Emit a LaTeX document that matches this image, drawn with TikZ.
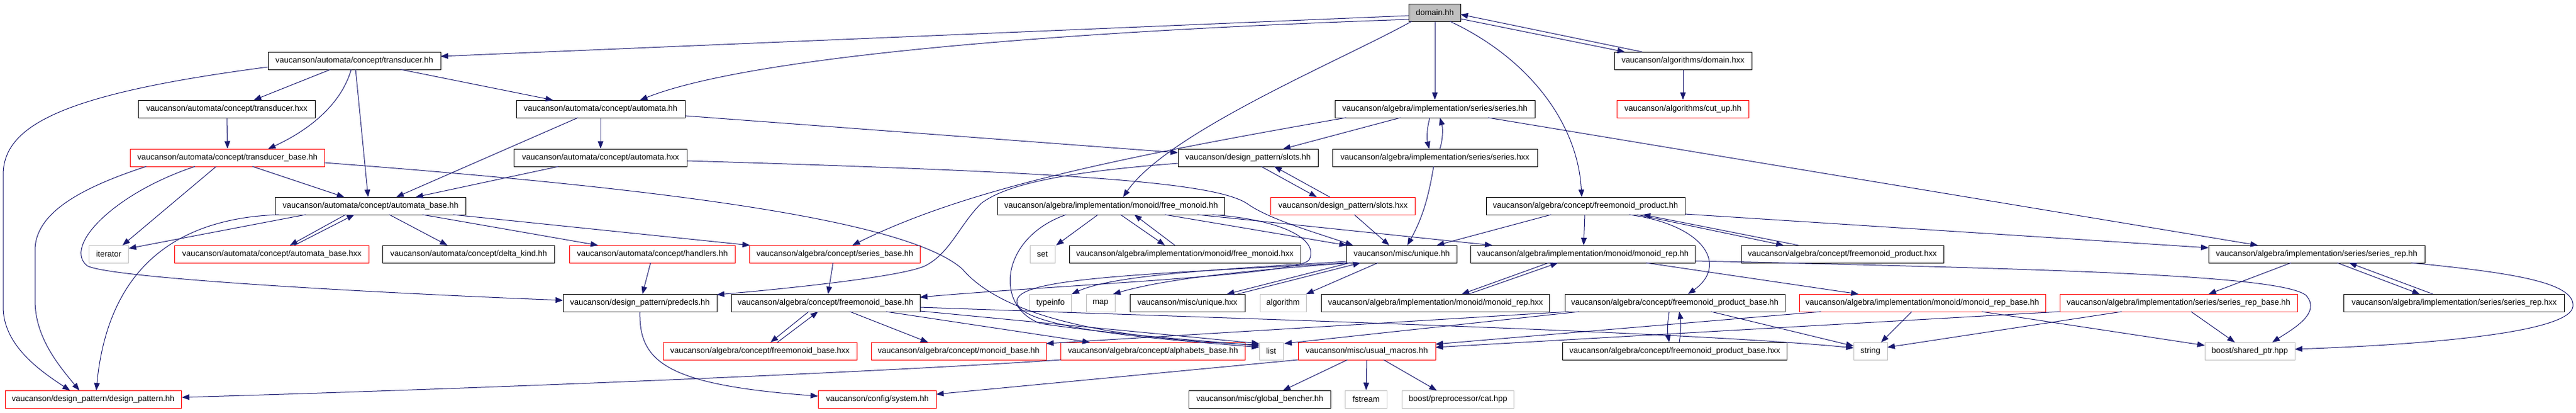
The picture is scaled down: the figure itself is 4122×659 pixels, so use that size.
\documentclass[tikz,border=0pt]{standalone}
\usepackage{fontspec}
\setmainfont{Liberation Sans}
\usetikzlibrary{arrows.meta,calc}
\definecolor{edgeblue}{RGB}{25,25,112}
\definecolor{boxgray}{RGB}{191,191,191}
\begin{document}
\begin{tikzpicture}[x=1pt,y=-1pt,
  box/.style={rectangle, minimum height=28pt, inner sep=0pt, line width=1pt, fill=white, text=black, font=\fontsize{13}{15}\selectfont},
  nb/.style={box, draw=black},
  nr/.style={box, draw=red},
  ng/.style={box, draw=boxgray},
  nroot/.style={box, draw=black, fill=boxgray},
  conn/.style={draw=edgeblue, line width=1pt, -{Triangle[length=12pt,width=9pt]}}]
\useasboundingbox (0,0) rectangle (4122,659);
% row 1
\node[nroot, minimum width=83pt] (domain) at (2296,20) {domain.hh};
% row 2
\node[nb, minimum width=276pt] (transducer) at (567,97) {vaucanson/automata/concept/transducer.hh};
\node[nb, minimum width=220pt] (domhxx) at (2693,97) {vaucanson/algorithms/domain.hxx};
% row 3
\node[nb, minimum width=283pt] (transhxx) at (363,174) {vaucanson/automata/concept/transducer.hxx};
\node[nb, minimum width=270pt] (automata) at (961,174) {vaucanson/automata/concept/automata.hh};
\node[nb, minimum width=320pt] (series) at (2296,174) {vaucanson/algebra/implementation/series/series.hh};
\node[nr, minimum width=211pt] (cutup) at (2693,174) {vaucanson/algorithms/cut\_up.hh};
% row 4
\node[nr, minimum width=311pt] (transbase) at (364,252) {vaucanson/automata/concept/transducer\_base.hh};
\node[nb, minimum width=277pt] (automhxx) at (961,252) {vaucanson/automata/concept/automata.hxx};
\node[nb, minimum width=224pt] (slots) at (1997,252) {vaucanson/design\_pattern/slots.hh};
\node[nb, minimum width=328pt] (serieshxx) at (2296,252) {vaucanson/algebra/implementation/series/series.hxx};
% row 5
\node[nb, minimum width=305pt] (autobase) at (593,329) {vaucanson/automata/concept/automata\_base.hh};
\node[nb, minimum width=363pt] (freemonoid) at (1778,329) {vaucanson/algebra/implementation/monoid/free\_monoid.hh};
\node[nr, minimum width=231pt] (slotshxx) at (2149,329) {vaucanson/design\_pattern/slots.hxx};
\node[nb, minimum width=318pt] (fprod) at (2537,329) {vaucanson/algebra/concept/freemonoid\_product.hh};
% row 6
\node[ng, minimum width=63pt] (iterator) at (174,406) {iterator};
\node[nr, minimum width=311pt] (autobasehxx) at (435,406) {vaucanson/automata/concept/automata\_base.hxx};
\node[nb, minimum width=275pt] (deltakind) at (750,406) {vaucanson/automata/concept/delta\_kind.hh};
\node[nr, minimum width=265pt] (handlers) at (1044,406) {vaucanson/automata/concept/handlers.hh};
\node[nr, minimum width=273pt] (seriesbase) at (1336,406) {vaucanson/algebra/concept/series\_base.hh};
\node[ng, minimum width=40pt] (set) at (1668,406) {set};
\node[nb, minimum width=370pt] (freemonoidhxx) at (1896,406) {vaucanson/algebra/implementation/monoid/free\_monoid.hxx};
\node[nb, minimum width=177pt] (unique) at (2243,406) {vaucanson/misc/unique.hh};
\node[nb, minimum width=359pt] (monoidrep) at (2533,406) {vaucanson/algebra/implementation/monoid/monoid\_rep.hh};
\node[nb, minimum width=324pt] (fprodhxx) at (2948,406) {vaucanson/algebra/concept/freemonoid\_product.hxx};
\node[nb, minimum width=346pt] (seriesrep) at (3707,406) {vaucanson/algebra/implementation/series/series\_rep.hh};
% row 7
\node[nb, minimum width=246pt] (predecls) at (1024,484) {vaucanson/design\_pattern/predecls.hh};
\node[nb, minimum width=302pt] (fmbase) at (1321,484) {vaucanson/algebra/concept/freemonoid\_base.hh};
\node[ng, minimum width=67pt] (typeinfo) at (1681,484) {typeinfo};
\node[ng, minimum width=46pt] (map) at (1761,484) {map};
\node[nb, minimum width=184pt] (uniquehxx) at (1900,484) {vaucanson/misc/unique.hxx};
\node[ng, minimum width=74pt] (algorithm) at (2053,484) {algorithm};
\node[nb, minimum width=365pt] (monoidrephxx) at (2297,484) {vaucanson/algebra/implementation/monoid/monoid\_rep.hxx};
\node[nb, minimum width=352pt] (fpbase) at (2680,484) {vaucanson/algebra/concept/freemonoid\_product\_base.hh};
\node[nr, minimum width=394pt] (monoidrepbase) at (3076,484) {vaucanson/algebra/implementation/monoid/monoid\_rep\_base.hh};
\node[nr, minimum width=380pt] (seriesrepbase) at (3486,484) {vaucanson/algebra/implementation/series/series\_rep\_base.hh};
\node[nb, minimum width=353pt] (seriesrephxx) at (3927,484) {vaucanson/algebra/implementation/series/series\_rep.hxx};
% row 8
\node[nr, minimum width=310pt] (fmbasehxx) at (1216,561) {vaucanson/algebra/concept/freemonoid\_base.hxx};
\node[nr, minimum width=280pt] (monoidbase) at (1534,561) {vaucanson/algebra/concept/monoid\_base.hh};
\node[nr, minimum width=295pt] (alphabase) at (1845,561) {vaucanson/algebra/concept/alphabets\_base.hh};
\node[ng, minimum width=38pt] (list) at (2034,561) {list};
\node[nr, minimum width=220pt] (usualmacros) at (2187,561) {vaucanson/misc/usual\_macros.hh};
\node[nb, minimum width=359pt] (fpbasehxx) at (2680,561) {vaucanson/algebra/concept/freemonoid\_product\_base.hxx};
\node[ng, minimum width=54pt] (string) at (2993,561) {string};
\node[ng, minimum width=144pt] (sharedptr) at (3600,561) {boost/shared\_ptr.hpp};
% row 9
\node[nr, minimum width=282pt] (designpattern) at (149,638) {vaucanson/design\_pattern/design\_pattern.hh};
\node[nr, minimum width=189pt] (system) at (1404,638) {vaucanson/config/system.hh};
\node[nb, minimum width=227pt] (globalbencher) at (2016,638) {vaucanson/misc/global\_bencher.hh};
\node[ng, minimum width=67pt] (fstream) at (2186,638) {fstream};
\node[ng, minimum width=179pt] (cat) at (2333,638) {boost/preprocessor/cat.hpp};

% ---------- edges ----------
\draw[conn] ($(domain)+(-42,5)$) -- ($(transducer)+(138,-7)$);
\draw[conn] ($(domain)+(-42,11)$) .. controls (1700,50) and (1200,90) .. ($(automata)+(63,-14)$);
\draw[conn] ($(domain)+(-37,14)$) .. controls (2150,95) and (1870,210) .. ($(freemonoid)+(19,-14)$);
\draw[conn] (domain.south) -- (series.north);
\draw[conn] ($(domain)+(24,14)$) .. controls (2450,95) and (2525,200) .. ($(fprod)+(-6,-14)$);
\draw[conn] ($(domain)+(41,10)$) -- ($(domhxx)+(-93,-14)$);
\draw[conn] ($(domhxx)+(-65,-14)$) -- ($(domain)+(41,3)$);
\draw[conn] (domhxx.south) -- (cutup.north);

\draw[conn] ($(transducer)+(-38,14)$) -- ($(transhxx)+(43,-14)$);
\draw[conn] ($(transducer)+(-5,14)$) .. controls (545,170) and (490,210) .. ($(transbase)+(65,-14)$);
\draw[conn] ($(transducer)+(2,14)$) -- ($(autobase)+(-4,-14)$);
\draw[conn] ($(transducer)+(74,14)$) -- ($(automata)+(-76,-14)$);
\draw[conn] ($(transducer)+(-138,10)$) .. controls (100,150) and (5,200) .. (5,280) -- (5,490) .. controls (5,550) and (60,590) .. ($(designpattern)+(-37,-14)$);
\draw[conn] (transhxx.south) -- (transbase.north);

\draw[conn] ($(transbase)+(-130,14)$) .. controls (130,300) and (56,340) .. (56,400) -- (56,480) .. controls (56,540) and (95,585) .. ($(designpattern)+(-22,-14)$);
\draw[conn] ($(transbase)+(-52,14)$) .. controls (180,310) and (100,395) .. (140,425) .. controls (180,445) and (600,468) .. ($(predecls)+(-123,-4)$);
\draw[conn] ($(transbase)+(-18,14)$) -- ($(iterator)+(22,-14)$);
\draw[conn] ($(transbase)+(40,14)$) -- ($(autobase)+(-42,-14)$);
\draw[conn] ($(transbase)+(155,8)$) .. controls (1050,300) and (1450,350) .. (1540,430) .. controls (1600,500) and (1750,540) .. ($(list)+(-19,-10)$);

\draw[conn] (automata.south) -- (automhxx.north);
\draw[conn] ($(automata)+(-36,14)$) -- ($(autobase)+(41,-14)$);
\draw[conn] ($(automata)+(135,11)$) -- ($(slots)+(-112,-8)$);
\draw[conn] ($(automhxx)+(-67,14)$) -- ($(autobase)+(72,-14)$);
\draw[conn] ($(automhxx)+(139,5)$) .. controls (1700,275) and (1940,290) .. (1995,325) .. controls (2030,350) and (2100,370) .. ($(unique)+(-78,-14)$);

\draw[conn] ($(slots)+(21,14)$) -- ($(slotshxx)+(-42,-14)$);
\draw[conn] ($(slotshxx)+(-21,-14)$) -- ($(slots)+(42,14)$);
\draw[conn] ($(slots)+(-112,9)$) .. controls (1700,275) and (1610,295) .. (1570,325) .. controls (1535,360) and (1520,405) .. (1480,425) .. controls (1440,443) and (1250,462) .. ($(predecls)+(123,-13)$);

\draw[conn] ($(series)+(-142,14)$) .. controls (1800,250) and (1550,300) .. ($(seriesbase)+(28,-14)$);
\draw[conn] ($(series)+(-55,14)$) -- ($(slots)+(56,-14)$);
\draw[conn] ($(series)+(-8,14)$) .. controls (2283,205) and (2283,222) .. ($(serieshxx)+(-9,-14)$);
\draw[conn] ($(serieshxx)+(8,-14)$) .. controls (2309,222) and (2309,205) .. ($(series)+(8,14)$);
\draw[conn] ($(series)+(85,14)$) -- ($(seriesrep)+(-94,-14)$);
\draw[conn] ($(serieshxx)+(-2,14)$) .. controls (2285,320) and (2275,350) .. ($(unique)+(9,-14)$);

\draw[conn] ($(freemonoid)+(-21,14)$) -- ($(set)+(22,-14)$);
\draw[conn] ($(freemonoid)+(15,14)$) -- ($(freemonoidhxx)+(-32,-14)$);
\draw[conn] ($(freemonoidhxx)+(-16,-14)$) -- ($(freemonoid)+(37,14)$);
\draw[conn] ($(freemonoid)+(86,14)$) -- ($(unique)+(-88,-14)$);
\draw[conn] ($(freemonoid)+(138,14)$) -- ($(monoidrep)+(-145,-14)$);
\draw[conn] ($(freemonoid)+(162,14)$) .. controls (2060,352) and (2110,385) .. (2095,415) .. controls (2080,440) and (1700,455) .. ($(fmbase)+(151,-9)$);
\draw[conn] ($(freemonoid)+(-72,14)$) .. controls (1600,380) and (1590,490) .. (1665,517) .. controls (1800,537) and (1950,546) .. ($(list)+(-19,-8)$);

\draw[conn] ($(slotshxx)+(18,14)$) -- ($(unique)+(-20,-14)$);
\draw[conn] ($(fprod)+(-55,14)$) -- ($(unique)+(56,-14)$);
\draw[conn] ($(fprod)+(-1,14)$) -- ($(monoidrep)+(1,-14)$);
\draw[conn] ($(fprod)+(70,14)$) .. controls (2730,360) and (2765,425) .. ($(fpbase)+(21,-14)$);
\draw[conn] ($(fprod)+(83,14)$) -- ($(fprodhxx)+(-94,-14)$);
\draw[conn] ($(fprodhxx)+(-70,-14)$) -- ($(fprod)+(92,14)$);
\draw[conn] ($(fprod)+(159,13)$) -- ($(seriesrep)+(-173,-10)$);

\draw[conn] ($(unique)+(-89,12)$) .. controls (1950,430) and (1780,440) .. ($(typeinfo)+(34,-14)$);
\draw[conn] ($(unique)+(-80,14)$) .. controls (1950,435) and (1850,450) .. ($(map)+(20,-14)$);
\draw[conn] ($(unique)+(-83,14)$) -- ($(uniquehxx)+(63,-14)$);
\draw[conn] ($(uniquehxx)+(80,-14)$) -- ($(unique)+(-66,14)$);
\draw[conn] ($(unique)+(-38,14)$) -- ($(algorithm)+(37,-14)$);
\draw[conn] ($(unique)+(-86,14)$) .. controls (1800,440) and (1600,445) .. (1630,490) .. controls (1660,530) and (1900,545) .. ($(list)+(-19,-6)$);

\draw[conn] ($(monoidrep)+(-55,14)$) -- ($(monoidrephxx)+(42,-14)$);
\draw[conn] ($(monoidrephxx)+(53,-14)$) -- ($(monoidrep)+(-40,14)$);
\draw[conn] ($(monoidrep)+(101,14)$) -- ($(monoidrepbase)+(-102,-14)$);
\draw[conn] ($(monoidrep)+(180,11)$) .. controls (3300,430) and (3650,440) .. (3690,472) .. controls (3715,500) and (3670,525) .. ($(sharedptr)+(36,-14)$);

\draw[conn] ($(seriesrep)+(-41,14)$) -- ($(seriesrepbase)+(48,-14)$);
\draw[conn] ($(seriesrep)+(33,14)$) -- ($(seriesrephxx)+(-55,-14)$);
\draw[conn] ($(seriesrephxx)+(-34,-14)$) -- ($(seriesrep)+(52,14)$);
\draw[conn] ($(seriesrep)+(151,14)$) .. controls (4010,435) and (4122,450) .. (4117,490) .. controls (4112,530) and (3900,550) .. ($(sharedptr)+(72,-3)$);

\draw[conn] ($(seriesrepbase)+(20,14)$) -- ($(sharedptr)+(-24,-14)$);
\draw[conn] ($(seriesrepbase)+(-91,14)$) -- ($(string)+(27,-6)$);
\draw[conn] ($(seriesrepbase)+(-190,14)$) -- ($(usualmacros)+(110,-6)$);
\draw[conn] ($(monoidrepbase)+(-17,14)$) -- ($(string)+(17,-14)$);
\draw[conn] ($(monoidrepbase)+(95,14)$) -- ($(sharedptr)+(-72,-9)$);
\draw[conn] ($(monoidrepbase)+(-162,14)$) -- ($(usualmacros)+(110,-11)$);

\draw[conn] ($(fpbase)+(-9,14)$) .. controls (2668,515) and (2668,530) .. ($(fpbasehxx)+(-9,-14)$);
\draw[conn] ($(fpbasehxx)+(7,-14)$) .. controls (2690,530) and (2690,515) .. ($(fpbase)+(7,14)$);
\draw[conn] ($(fpbase)+(58,14)$) -- ($(string)+(-27,-8)$);
\draw[conn] ($(fpbase)+(-170,14)$) -- ($(monoidbase)+(140,-12)$);
\draw[conn] ($(fpbase)+(-153,14)$) -- ($(list)+(21,-12)$);

\draw[conn] ($(fmbase)+(151,7)$) .. controls (2000,510) and (2700,530) .. ($(string)+(-27,-5)$);
\draw[conn] ($(fmbase)+(151,13)$) -- ($(list)+(-19,-12)$);
\draw[conn] ($(fmbase)+(97,14)$) -- ($(alphabase)+(-101,-14)$);
\draw[conn] ($(fmbase)+(39,14)$) -- ($(monoidbase)+(-49,-14)$);
\draw[conn] ($(fmbase)+(-27,14)$) -- ($(fmbasehxx)+(17,-14)$);
\draw[conn] ($(fmbasehxx)+(28,-14)$) -- ($(fmbase)+(-12,14)$);
\draw[conn] ($(seriesbase)+(-3,14)$) -- ($(fmbase)+(4,-14)$);
\draw[conn] ($(handlers)+(-3,14)$) -- ($(predecls)+(4,-14)$);
\draw[conn] (predecls.south) .. controls (1022,580) and (1070,615) .. ($(system)+(-95,-5)$);
\draw[conn] ($(alphabase)+(-147,14)$) .. controls (1400,595) and (800,620) .. ($(designpattern)+(142,-3)$);

\draw[conn] ($(usualmacros)+(-110,14)$) -- ($(system)+(94,-8)$);
\draw[conn] ($(usualmacros)+(-31,14)$) -- ($(globalbencher)+(37,-14)$);
\draw[conn] (usualmacros.south) -- (fstream.north);
\draw[conn] ($(usualmacros)+(27,14)$) -- ($(cat)+(-34,-14)$);

\draw[conn] ($(autobase)+(-104,14)$) -- ($(iterator)+(32,-9)$);
\draw[conn] ($(autobase)+(-147,14)$) .. controls (250,350) and (170,460) .. ($(designpattern)+(5,-14)$);
\draw[conn] ($(autobase)+(-40,14)$) -- ($(autobasehxx)+(29,-14)$);
\draw[conn] ($(autobasehxx)+(36,-14)$) -- ($(autobase)+(-26,14)$);
\draw[conn] ($(autobase)+(30,14)$) -- ($(deltakind)+(-34,-14)$);
\draw[conn] ($(autobase)+(83,14)$) -- ($(handlers)+(-87,-14)$);
\draw[conn] ($(autobase)+(132,14)$) -- ($(seriesbase)+(-136,-14)$);
\end{tikzpicture}
\end{document}
